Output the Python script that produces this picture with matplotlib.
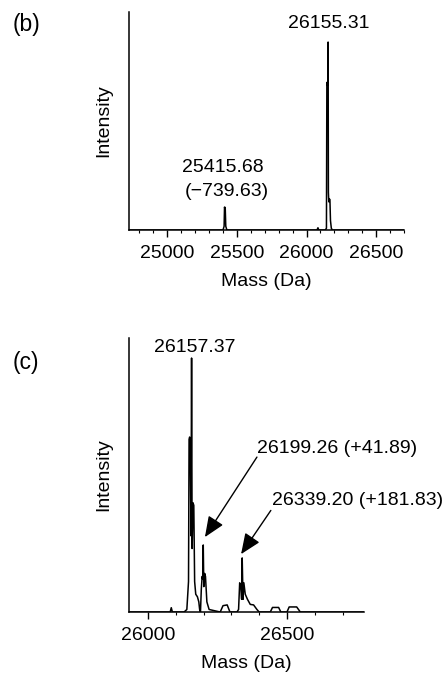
import matplotlib.pyplot as plt
from matplotlib.ticker import MultipleLocator

plt.rcParams['font.family'] = ['Liberation Sans', 'DejaVu Sans']
plt.rcParams['font.size'] = 14

# ---- panel (b) trace (mass in Da, relative intensity)
mass_b = [24725, 25400, 25408, 25411, 25413, 25416, 25420, 25428, 26075, 26082,
          26088, 26135, 26143, 26146, 26149, 26151, 26153, 26155, 26157, 26160,
          26165, 26168, 26172, 26178, 26185, 26700]
int_b = [0, 0, 0.02, 0.122, 0.115, 0.12, 0.02, 0, 0, 0.012,
         0, 0, 0.01, 0.78, 0.787, 0.77, 0.78, 1.0, 0.2, 0.15,
         0.165, 0.16, 0.05, 0.01, 0, 0]

# ---- panel (c) trace
mass_c = [25932, 26080, 26084, 26088, 26130, 26140, 26146, 26148, 26150, 26152,
          26155, 26157, 26159, 26162, 26165, 26168, 26172, 26178, 26183, 26186,
          26189, 26192, 26195, 26197, 26199, 26201, 26204, 26207, 26212, 26220,
          26260, 26270, 26285, 26295, 26320, 26326, 26330, 26334, 26337, 26339,
          26342, 26345, 26350, 26358, 26368, 26380, 26392, 26400, 26440, 26448,
          26470, 26478, 26500, 26508, 26535, 26548, 26777]
int_c = [0, 0, 0.017, 0, 0, 0.01, 0.12, 0.68, 0.689, 0.68,
         0.3, 1.0, 0.25, 0.43, 0.42, 0.12, 0.07, 0.06, 0.04, 0.01,
         0.0, 0.09, 0.14, 0.13, 0.264, 0.1, 0.152, 0.14, 0.04, 0.01,
         0, 0.025, 0.028, 0, 0, 0.01, 0.115, 0.1, 0.05, 0.213,
         0.05, 0.115, 0.07, 0.05, 0.03, 0.028, 0.01, 0, 0, 0.018,
         0.018, 0, 0, 0.02, 0.02, 0, 0]

ticks_b = [25000, 25500, 26000, 26500]
ticks_c = [26000, 26500]


def style(ax, xlim, ylim, ticks):
    ax.set_xlim(*xlim)
    ax.set_ylim(*ylim)
    for s in ("top", "right"):
        ax.spines[s].set_visible(False)
    ax.spines["left"].set_linewidth(1.1)
    ax.spines["bottom"].set_linewidth(1.1)
    ax.set_yticks([])
    ax.set_xticks(ticks)
    ax.xaxis.set_minor_locator(MultipleLocator(100))
    ax.tick_params(axis="x", which="major", direction="out", length=5, width=1,
                   pad=6, labelsize=14)
    ax.tick_params(axis="x", which="minor", direction="out", length=2.5, width=0.8)
    ax.set_xlabel("Mass (Da)", fontsize=14, labelpad=8)
    ax.set_ylabel("Intensity", fontsize=14, labelpad=12)


fig = plt.figure(figsize=(4.47, 6.73), dpi=100)

# (b)
axb = fig.add_axes([0.2886, 0.6582, 0.6152, 0.324])
axb.plot(mass_b, int_b, color="black", lw=1.1)
style(axb, (24725, 26700), (0, 1.16), ticks_b)
axb.text(26158, 1.1, "26155.31", ha="center", va="center", fontsize=14)
axb.text(25400, 0.33, "25415.68", ha="center", va="center", fontsize=14)
axb.text(25430, 0.205, "(\u2212739.63)", ha="center", va="center", fontsize=14)
fig.text(0.029, 0.963, "(b)", fontsize=16.5, ha="left", va="center")

# (c)
axc = fig.add_axes([0.2886, 0.0906, 0.5257, 0.4072])
axc.plot(mass_c, int_c, color="black", lw=1.1)
style(axc, (25932, 26777), (0, 1.079), ticks_c)
axc.text(26170, 1.04, "26157.37", ha="center", va="center", fontsize=14)
axc.text(26394, 0.645, "26199.26 (+41.89)", ha="left", va="center", fontsize=14)
axc.text(26448, 0.44, "26339.20 (+181.83)", ha="left", va="center", fontsize=14)
arrow = dict(arrowstyle="-|>,head_length=0.9,head_width=0.38", color="black",
             lw=1.0, shrinkA=0, shrinkB=0)
axc.annotate("", xy=(26205, 0.295), xytext=(26392, 0.61), arrowprops=arrow)
axc.annotate("", xy=(26335, 0.228), xytext=(26442, 0.40), arrowprops=arrow)
fig.text(0.029, 0.461, "(c)", fontsize=16.5, ha="left", va="center")

fig.savefig("out.png", dpi=100)
